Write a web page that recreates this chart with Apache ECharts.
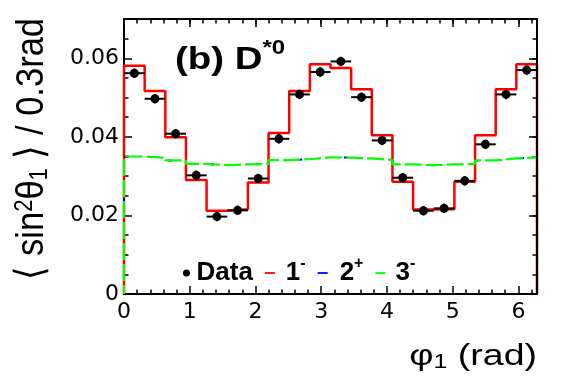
<!DOCTYPE html>
<html>
<head>
<meta charset="utf-8">
<script src="https://cdn.jsdelivr.net/npm/echarts@6/dist/echarts.min.js"></script>
<style>
html, body { margin: 0; padding: 0; background: #fff; }
#chart { width: 565px; height: 383px; }
</style>
</head>
<body>
<div id="chart"></div>
<script>
var TWO_PI = 2 * Math.PI;
var nBins = 20;
var binWidth = TWO_PI / nBins;

// measured <sin^2 theta_1> per bin (data points)
var dataVals = [0.0562, 0.0497, 0.0408, 0.0302, 0.0197, 0.0213, 0.0294, 0.0395, 0.0508, 0.0565,
                0.0592, 0.0501, 0.0391, 0.0296, 0.0212, 0.0218, 0.0288, 0.0381, 0.0508, 0.0570];
var dataErr  = [0.0012, 0.0012, 0.0012, 0.0012, 0.0012, 0.0012, 0.0012, 0.0012, 0.0012, 0.0012,
                0.0012, 0.0012, 0.0012, 0.0012, 0.0012, 0.0012, 0.0012, 0.0012, 0.0012, 0.0012];
// spin-parity hypotheses
var spin1m = [0.0581, 0.0517, 0.0399, 0.0290, 0.0212, 0.0216, 0.0284, 0.0410, 0.0517, 0.0585,
              0.0575, 0.0521, 0.0404, 0.0286, 0.0215, 0.0216, 0.0286, 0.0404, 0.0521, 0.0585];
var spin2p = [0.0350, 0.0347, 0.0340, 0.0331, 0.0328, 0.0330, 0.0331, 0.0341, 0.0343, 0.0348,
              0.0347, 0.0345, 0.0341, 0.0330, 0.0328, 0.0330, 0.0331, 0.0340, 0.0345, 0.0348];
var spin3m = [0.0350, 0.0347, 0.0340, 0.0331, 0.0328, 0.0330, 0.0331, 0.0341, 0.0343, 0.0348,
              0.0347, 0.0345, 0.0341, 0.0330, 0.0328, 0.0330, 0.0331, 0.0340, 0.0345, 0.0348];

var legendNames = { 'Data': '{b|Data}', '1-': '{b|1}{sup|-}', '2+': '{b|2}{sup|+}', '3-': '{b|3}{sup|-}' };

// histogram outline: starts and ends on the x axis
function stepData(vals) {
    var pts = [[0, 0]];
    for (var i = 0; i < vals.length; i++) pts.push([i * binWidth, vals[i]]);
    pts.push([TWO_PI, vals[vals.length - 1]]);
    pts.push([TWO_PI, 0]);
    return pts;
}

var pointData = dataVals.map(function (v, i) { return [(i + 0.5) * binWidth, v, dataErr[i]]; });

var labelFont = 'DejaVu Sans';
var black = '#000';
var dashIcon = 'path://M0,0M10,7M0,2.6h10v1.8h-10z';

function majorX(pos, labels) {
    return {
        gridIndex: 0, type: 'value', position: pos, min: 0, max: TWO_PI, interval: 1,
        z: pos === 'top' ? 10 : 0,
        axisLine: { show: true, onZero: false, lineStyle: { color: black, width: 2 } },
        axisTick: { show: true, inside: true, length: 8, lineStyle: { color: black, width: 1.5 } },
        axisLabel: {
            show: labels, margin: 7, fontSize: 22, fontFamily: labelFont, color: black,
            showMaxLabel: false,
            formatter: function (v) { return Math.abs(v - Math.round(v)) < 1e-6 ? String(Math.round(v)) : ''; }
        },
        splitLine: { show: false }
    };
}
function minorX(pos) {
    return {
        gridIndex: 1, type: 'value', position: pos, min: 0, max: TWO_PI, interval: 0.2,
        axisLine: { show: false, onZero: false },
        axisTick: { show: true, inside: true, length: 4.5, lineStyle: { color: black, width: 1.5 } },
        axisLabel: { show: false }, splitLine: { show: false }
    };
}
function majorY(pos, labels) {
    return {
        gridIndex: 0, type: 'value', position: pos, min: 0, max: 0.07, interval: 0.02,
        z: pos === 'right' ? 10 : 0,
        axisLine: { show: true, onZero: false, lineStyle: { color: black, width: 2 } },
        axisTick: { show: true, inside: true, length: 8, lineStyle: { color: black, width: 1.5 } },
        axisLabel: {
            show: labels, margin: 5, fontSize: 22, fontFamily: labelFont, color: black,
            showMaxLabel: false,
            formatter: function (v) {
                if (v === 0) return '0';
                var k = v / 0.02;
                return Math.abs(k - Math.round(k)) < 1e-6 ? v.toFixed(2) : '';
            }
        },
        splitLine: { show: false }
    };
}
function minorY(pos) {
    return {
        gridIndex: 1, type: 'value', position: pos, min: 0, max: 0.07, interval: 0.005,
        axisLine: { show: false, onZero: false },
        axisTick: { show: true, inside: true, length: 4.5, lineStyle: { color: black, width: 1.5 } },
        axisLabel: { show: false }, splitLine: { show: false }
    };
}

var gridBox = { left: 124, right: 28, top: 19, bottom: 89 };

var chart = echarts.init(document.getElementById('chart'), null, { renderer: 'canvas' });
chart.setOption({
    backgroundColor: '#fff',
    animation: false,
    grid: [
        Object.assign({ containLabel: false }, gridBox),
        Object.assign({ containLabel: false }, gridBox)
    ],
    xAxis: [majorX('bottom', true), majorX('top', false), minorX('bottom'), minorX('top')],
    yAxis: [majorY('left', true), majorY('right', false), minorY('left'), minorY('right')],
    legend: {
        left: 178, top: 251, orient: 'horizontal',
        itemWidth: 10, itemHeight: 7, itemGap: 12,
        selectedMode: false,
        formatter: function (name) { return legendNames[name]; },
        textStyle: {
            color: black,
            rich: {
                b: { fontSize: 26, fontWeight: 'bold', fontFamily: 'Liberation Sans', color: black, lineHeight: 34 },
                sup: { fontSize: 16, fontWeight: 'bold', fontFamily: 'Liberation Sans', color: black, lineHeight: 16, verticalAlign: 'top' }
            }
        },
        data: [
            { name: 'Data', icon: 'circle', itemStyle: { color: black } },
            { name: '1-', icon: dashIcon, itemStyle: { color: '#ff0000' }, textStyle: { padding: [0, 0, 0, 6] } },
            { name: '2+', icon: dashIcon, itemStyle: { color: '#0000ff' }, textStyle: { padding: [0, 14, 0, 7] } },
            { name: '3-', icon: dashIcon, itemStyle: { color: '#00ff00' }, textStyle: { padding: [0, 0, 0, 5] } }
        ]
    },
    graphic: [
        {
            type: 'text', x: 12, y: 18, rotation: Math.PI / 2, scaleY: 1.15,
            style: {
                text: '\u27E8 sin{sup|2}\u03B8{sub|1} \u27E9 / 0.3rad',
                font: '34.5px "Liberation Sans"', fill: black,
                align: 'right', verticalAlign: 'top',
                rich: {
                    sup: { fontSize: 22, fontFamily: 'Liberation Sans', fill: black, verticalAlign: 'top', lineHeight: 22 },
                    sub: { fontSize: 22, fontFamily: 'Liberation Sans', fill: black, verticalAlign: 'bottom', lineHeight: 22 }
                }
            }
        },
        {
            type: 'text', x: 537, y: 357, scaleX: 1.25,
            style: {
                text: '\u03C6{sub|1} (rad)',
                font: '30px "Liberation Sans"', fill: black,
                align: 'right', verticalAlign: 'middle',
                rich: {
                    sub: { fontSize: 20, fontFamily: 'Liberation Sans', fill: black, verticalAlign: 'bottom', lineHeight: 20 }
                }
            }
        },
        {
            type: 'text', x: 175, y: 60, scaleX: 1.2,
            style: {
                text: '{b|(b) D}{sup|*0}',
                fill: black, align: 'left', verticalAlign: 'middle',
                rich: {
                    b: { fontSize: 32, fontWeight: 'bold', fontFamily: 'Liberation Sans', fill: black, lineHeight: 44 },
                    sup: { fontSize: 20, fontWeight: 'bold', fontFamily: 'Liberation Sans', fill: black, lineHeight: 20, verticalAlign: 'top' }
                }
            }
        }
    ],
    series: [
        {
            name: '1-', type: 'line', xAxisIndex: 0, yAxisIndex: 0, step: 'end',
            data: stepData(spin1m), symbol: 'none', z: 2,
            color: '#ff0000', lineStyle: { color: '#ff0000', width: 2.5 }
        },
        {
            name: '2+', type: 'line', xAxisIndex: 0, yAxisIndex: 0, step: 'end',
            data: stepData(spin2p), symbol: 'none', z: 3,
            color: '#0000ff', lineStyle: { color: '#0000ff', width: 2, type: [4, 42] }
        },
        {
            name: '3-', type: 'line', xAxisIndex: 0, yAxisIndex: 0, step: 'end',
            data: stepData(spin3m), symbol: 'none', z: 4,
            color: '#00ff00', lineStyle: { color: '#00ff00', width: 2.2, type: [17, 4], dashOffset: 8 }
        },
        {
            name: 'Data', type: 'custom', xAxisIndex: 0, yAxisIndex: 0, z: 6,
            color: black,
            data: pointData,
            renderItem: function (params, api) {
                var x = api.value(0), y = api.value(1), e = api.value(2);
                var l = api.coord([x - binWidth / 2, y]);
                var r = api.coord([x + binWidth / 2, y]);
                var t = api.coord([x, y + e]);
                var b = api.coord([x, y - e]);
                var c = api.coord([x, y]);
                return {
                    type: 'group',
                    children: [
                        { type: 'line', shape: { x1: l[0], y1: l[1], x2: r[0], y2: r[1] }, style: { stroke: black, lineWidth: 2 } },
                        { type: 'line', shape: { x1: t[0], y1: t[1], x2: b[0], y2: b[1] }, style: { stroke: black, lineWidth: 2 } },
                        { type: 'circle', shape: { cx: c[0], cy: c[1], r: 4.5 }, style: { fill: black } }
                    ]
                };
            }
        }
    ]
});
</script>
</body>
</html>
